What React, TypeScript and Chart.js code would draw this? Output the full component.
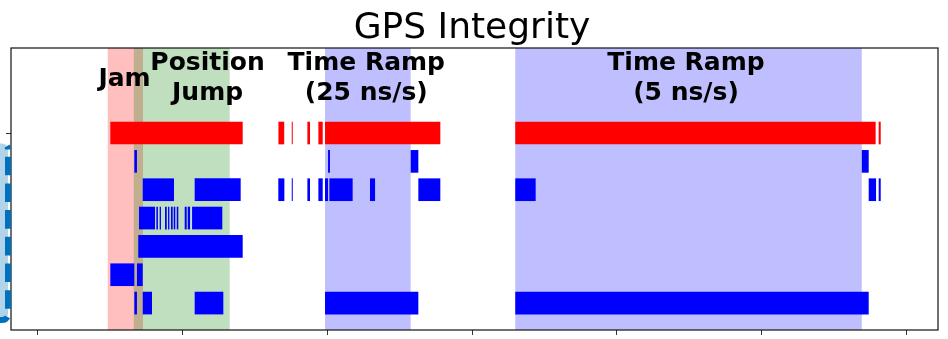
import React, { useEffect, useRef } from 'react';
import { Chart, registerables } from 'chart.js';

Chart.register(...registerables);

// Axis ticks and limits
const xTicks = [0, 100, 200, 300, 400, 500, 600];
const yTicks = [6];
const xLimits = [-18.66, 622.1];
const yLimits = [-0.95, 9.0];

// Row levels (top to bottom)
const redRow = 6;
const blueRowLevels = [5, 4, 3, 2, 1, 0];

// Red row spans [start, end]
const redSpans = [
  [50.0, 141.5], [166.2, 170.2], [175.4, 176.1], [186.2, 188.0], [193.8, 196.8],
  [198.4, 278.1], [329.9, 579.0], [581.1, 582.5],
];

// Blue rows spans
const blueRow5 = [[66.6, 68.4], [200.5, 201.8], [257.6, 262.9], [569.4, 574.2]];
const blueRow4 = [
  [72.4, 94.0], [108.3, 140.1], [166.1, 170.3], [175.4, 176.1], [186.2, 188.0],
  [193.8, 196.8], [198.4, 200.5], [201.4, 217.5], [229.5, 233.0], [262.9, 278.1],
  [329.9, 344.0], [574.2, 579.3], [581.1, 582.5],
];
const blueRow3 = [
  [69.8, 80.9], [81.8, 82.9], [84.1, 85.0], [87.8, 89.0], [89.9, 90.8], [91.9, 93.1],
  [93.8, 94.9], [95.9, 97.0], [101.4, 102.8], [103.5, 105.1], [106.5, 127.4],
];
const blueRow2 = [[69.3, 141.5]];
const blueRow1 = [[50.0, 66.6], [68.4, 72.4]];
const blueRow0 = [[66.6, 68.4], [72.4, 78.8], [108.3, 128.1], [198.4, 262.9], [329.9, 574.2]];
const blueRows = [blueRow5, blueRow4, blueRow3, blueRow2, blueRow1, blueRow0];

// Shaded event regions
const regionStarts = [48.2, 66.2, 198.4, 329.9];
const regionEnds = [72.6, 132.5, 257.6, 569.4];
const regionColors = ['rgba(255,0,0,0.25)', 'rgba(0,128,0,0.25)', 'rgba(0,0,255,0.25)', 'rgba(0,0,255,0.25)'];

// Event labels
const labelTexts = [['Jam'], ['Position', 'Jump'], ['Time Ramp', '(25 ns/s)'], ['Time Ramp', '(5 ns/s)']];
const labelXs = [59.8, 117.2, 226.9, 447.9];
const labelY = 8;

// Highlight box (y extent in data units)
const boxYRange = [5.63, -0.6];

export default function App() {
  const ref = useRef<HTMLCanvasElement>(null);

  useEffect(() => {
    const canvas = ref.current;
    if (!canvas) return;

    const redData = redSpans.map((s) => ({ x: s, y: redRow }));
    const blueData: any[] = [];
    blueRows.forEach((spans, i) => {
      spans.forEach((s) => blueData.push({ x: s, y: blueRowLevels[i] }));
    });

    const decoPlugin = {
      id: 'deco',
      beforeDatasetsDraw(chart: any) {
        const { ctx, chartArea: a, scales } = chart;
        const xs = scales.x;
        ctx.save();
        for (let i = 0; i < regionStarts.length; i++) {
          const x0 = xs.getPixelForValue(regionStarts[i]);
          const x1 = xs.getPixelForValue(regionEnds[i]);
          ctx.fillStyle = regionColors[i];
          ctx.fillRect(x0, a.top, x1 - x0, a.bottom - a.top);
        }
        ctx.restore();
      },
      afterDatasetsDraw(chart: any) {
        const { ctx, scales } = chart;
        ctx.save();
        ctx.fillStyle = '#000';
        ctx.font = 'bold 25px "DejaVu Sans"';
        ctx.textAlign = 'center';
        ctx.textBaseline = 'alphabetic';
        const cy = scales.y.getPixelForValue(labelY);
        labelTexts.forEach((lines, i) => {
          const cx = scales.x.getPixelForValue(labelXs[i]);
          const n = lines.length;
          lines.forEach((line, j) => {
            const by = cy + 9.5 + (j - (n - 1) / 2) * 30 - (n - 1) * 1.2;
            ctx.fillText(line, cx, by);
          });
        });
        ctx.restore();
      },
      afterDraw(chart: any) {
        const { ctx, chartArea: a, scales } = chart;
        ctx.save();
        ctx.strokeStyle = '#111';
        ctx.lineWidth = 1.2;
        ctx.strokeRect(a.left, a.top, a.right - a.left, a.bottom - a.top);
        const top = scales.y.getPixelForValue(boxYRange[0]);
        const bottom = scales.y.getPixelForValue(boxYRange[1]);
        const right = a.left - 3;
        const left = -40;
        const r = 6;
        ctx.beginPath();
        ctx.moveTo(right, top + r);
        ctx.lineTo(right, bottom - r);
        ctx.arcTo(right, bottom, right - r, bottom, r);
        ctx.lineTo(left + r, bottom);
        ctx.arcTo(left, bottom, left, bottom - r, r);
        ctx.lineTo(left, top + r);
        ctx.arcTo(left, top, left + r, top, r);
        ctx.lineTo(right - r, top);
        ctx.arcTo(right, top, right, top + r, r);
        ctx.closePath();
        ctx.fillStyle = 'rgba(0,114,189,0.3)';
        ctx.fill();
        ctx.setLineDash([18.6, 8.1]);
        ctx.lineDashOffset = 19.5;
        ctx.strokeStyle = 'rgb(0,114,189)';
        ctx.lineWidth = 6;
        ctx.stroke();
        ctx.restore();
      },
    };

    const axisCommon = {
      type: 'linear' as const,
      offset: false,
      ticks: { display: false },
      grid: { display: true, drawOnChartArea: false, drawTicks: true, tickLength: 5, color: '#333', lineWidth: 1, offset: false },
      border: { display: false },
    };

    const chart = new Chart(canvas, {
      type: 'bar',
      data: {
        datasets: [
          {
            data: redData as any,
            backgroundColor: 'rgb(255,0,0)',
            borderWidth: 0,
            grouped: false,
            barPercentage: 0.8,
            categoryPercentage: 1,
          } as any,
          {
            data: blueData,
            backgroundColor: 'rgb(0,0,255)',
            borderWidth: 0,
            grouped: false,
            barPercentage: 0.8,
            categoryPercentage: 1,
          } as any,
        ],
      },
      options: {
        animation: false,
        responsive: false,
        devicePixelRatio: 1,
        indexAxis: 'y',
        layout: { padding: { left: 6, right: 10, top: 0, bottom: 4 } },
        plugins: {
          legend: { display: false },
          tooltip: { enabled: false },
          title: {
            display: true,
            text: 'GPS Integrity',
            color: '#000',
            font: { family: 'DejaVu Sans', size: 36, weight: 'normal', lineHeight: 1 },
            padding: { top: 11, bottom: 1 },
          },
        },
        scales: {
          x: {
            ...axisCommon,
            min: xLimits[0],
            max: xLimits[1],
            afterBuildTicks: (s: any) => {
              s.ticks = xTicks.map((v) => ({ value: v }));
            },
          },
          y: {
            ...axisCommon,
            min: yLimits[0],
            max: yLimits[1],
            afterBuildTicks: (s: any) => {
              s.ticks = yTicks.map((v) => ({ value: v }));
            },
          },
        } as any,
      },
      plugins: [decoPlugin],
    });

    return () => chart.destroy();
  }, []);

  return (
    <div style={{ position: 'absolute', left: 0, top: 0, width: 948, height: 339 }}>
      <canvas ref={ref} width={948} height={339} style={{ display: 'block' }} />
    </div>
  );
}
